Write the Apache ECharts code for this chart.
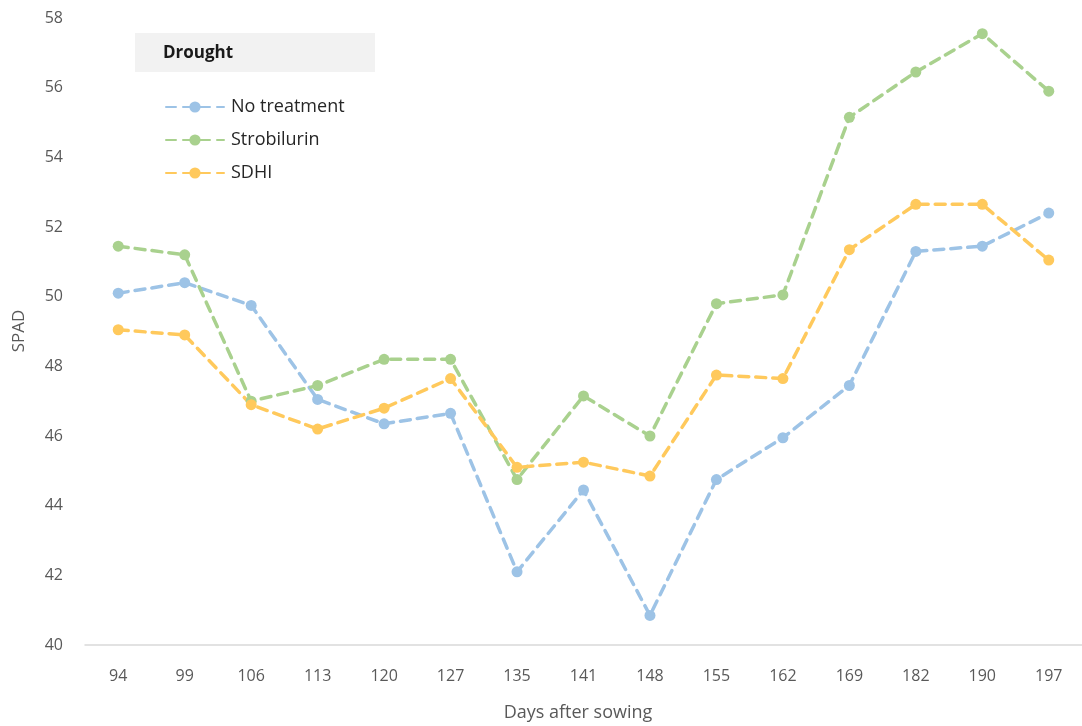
<!DOCTYPE html>
<html>
<head>
<meta charset="utf-8">
<script src="https://cdn.jsdelivr.net/npm/echarts@6/dist/echarts.min.js"></script>
<style>
  html, body { margin: 0; padding: 0; background: #fff; }
  #chart { width: 1082px; height: 726px; }
</style>
</head>
<body>
<div id="chart"></div>
<script>
// Days after sowing (category axis)
const days = ['94', '99', '106', '113', '120', '127', '135', '141', '148', '155', '162', '169', '182', '190', '197'];

// SPAD readings under drought
const noTreatment = [50.1, 50.4, 49.75, 47.05, 46.35, 46.65, 42.1, 44.45, 40.85, 44.75, 45.95, 47.45, 51.3, 51.45, 52.4];
const strobilurin = [51.45, 51.2, 47.0, 47.45, 48.2, 48.2, 44.75, 47.15, 46.0, 49.8, 50.05, 55.15, 56.45, 57.55, 55.9];
const sdhi = [49.05, 48.9, 46.9, 46.2, 46.8, 47.65, 45.1, 45.25, 44.85, 47.75, 47.65, 51.35, 52.65, 52.65, 51.05];

const yTicks = { min: 40, max: 58, step: 2 };

const FONT = '"Open Sans", "Noto Sans", sans-serif';
const colors = { blue: '#9dc3e6', green: '#a9d18e', orange: '#ffc95c' };

function makeSeries(name, data, color) {
  return {
    name: name,
    type: 'line',
    data: data,
    symbol: 'circle',
    symbolSize: 11,
    itemStyle: { color: color },
    lineStyle: { color: color, width: 3.5, type: [10, 7], cap: 'round' },
    emphasis: { disabled: true },
    z: 3
  };
}

const chart = echarts.init(document.getElementById('chart'), null, { renderer: 'canvas' });

chart.setOption({
  animation: false,
  backgroundColor: '#ffffff',
  grid: { left: 85, top: 18, width: 1011, height: 627, containLabel: false },
  xAxis: {
    type: 'category',
    data: days,
    boundaryGap: true,
    axisLine: { show: true, lineStyle: { color: '#d9d9d9', width: 1.5 } },
    axisTick: { show: false },
    axisLabel: { color: '#595959', fontSize: 16, fontFamily: FONT, margin: 23 },
    splitLine: { show: false }
  },
  yAxis: {
    type: 'value',
    min: yTicks.min,
    max: yTicks.max,
    interval: yTicks.step,
    axisLine: { show: false },
    axisTick: { show: false },
    axisLabel: { color: '#595959', fontSize: 16, fontFamily: FONT, margin: 22 },
    splitLine: { show: false }
  },
  legend: {
    orient: 'vertical',
    left: 160,
    top: 93,
    itemWidth: 58,
    itemHeight: 14,
    itemGap: 15,
    textStyle: { color: '#262626', fontSize: 18, fontFamily: FONT, padding: [0, 0, 0, 2] },
    data: ['No treatment', 'Strobilurin', 'SDHI']
  },
  graphic: [
    {
      type: 'rect',
      shape: { x: 135, y: 33, width: 240, height: 39 },
      style: { fill: '#f2f2f2' },
      z: 1
    },
    {
      type: 'text',
      x: 163, y: 53,
      style: { text: 'Drought', fill: '#1a1a1a', font: 'bold 17px ' + FONT, textVerticalAlign: 'middle' },
      z: 2
    },
    {
      type: 'text',
      x: 578, y: 713,
      style: { text: 'Days after sowing', fill: '#595959', font: '18px ' + FONT, textAlign: 'center', textVerticalAlign: 'middle' }
    },
    {
      type: 'text',
      x: 19, y: 331,
      rotation: Math.PI / 2,
      style: { text: 'SPAD', fill: '#595959', font: '17px ' + FONT, textAlign: 'center', textVerticalAlign: 'middle' }
    }
  ],
  series: [
    makeSeries('No treatment', noTreatment, colors.blue),
    makeSeries('Strobilurin', strobilurin, colors.green),
    makeSeries('SDHI', sdhi, colors.orange)
  ]
});
</script>
</body>
</html>
